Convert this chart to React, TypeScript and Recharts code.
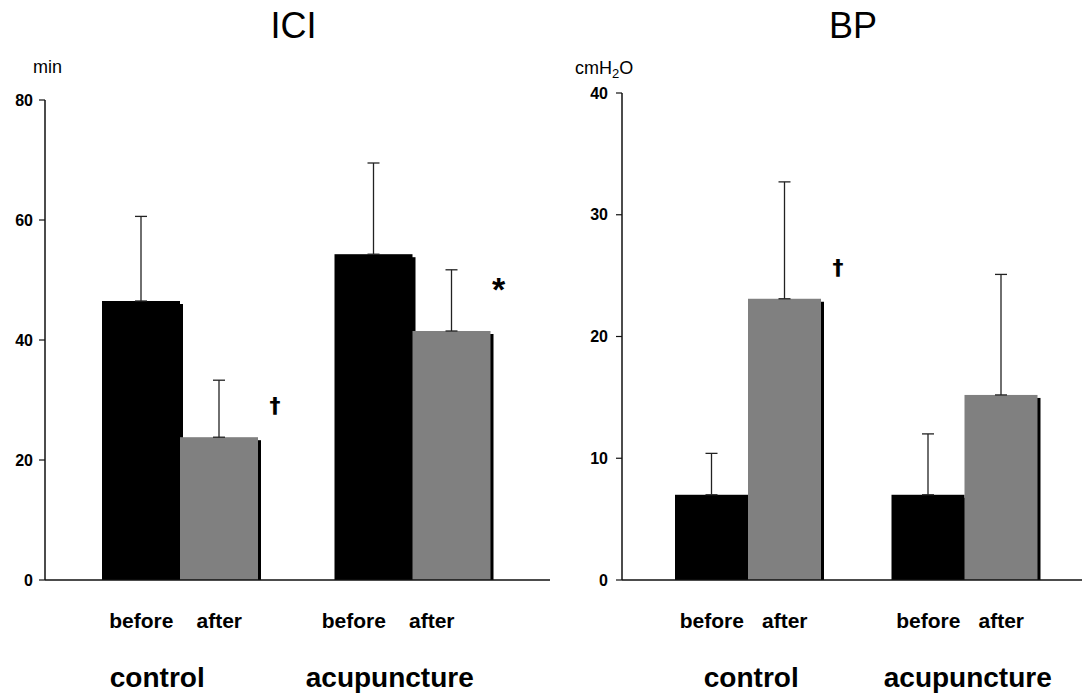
import React from "react";
import { BarChart, Bar, XAxis, YAxis, ErrorBar, LabelList } from "recharts";

const groups = ["control", "acupuncture"];
const phaseLabels = ["before", "after"];

const iciBefore = [46.5, 54.3];
const iciBeforeSD = [14.1, 15.2];
const iciAfter = [23.8, 41.5];
const iciAfterSD = [9.5, 10.2];
const iciMarks = ["†", "*"];
const iciTicks = [0, 20, 40, 60, 80];

const bpBefore = [7.0, 7.0];
const bpBeforeSD = [3.4, 5.0];
const bpAfter = [23.1, 15.2];
const bpAfterSD = [9.6, 9.9];
const bpMarks = ["†", ""];
const bpTicks = [0, 10, 20, 30, 40];

const FONT = "'Liberation Sans', Arial, Helvetica, sans-serif";

function buildRows(before: number[], beforeSD: number[], after: number[], afterSD: number[], marks: string[]) {
  return groups.map((g, i) => ({
    group: g,
    before: before[i],
    after: after[i],
    beforeErr: [0, beforeSD[i]],
    afterErr: [0, afterSD[i]],
    mark: marks[i],
  }));
}

const ShadowBar = (props: any) => {
  const { x, y, width, height, fill } = props;
  if (!height || height <= 0) return null;
  return (
    <g>
      <rect x={x + 3} y={y + 3} width={width} height={Math.max(0, height - 3)} fill="#000" />
      <rect x={x} y={y} width={width} height={height} fill={fill} />
    </g>
  );
};

const MarkLabel = (props: any) => {
  const { x, y, width, value } = props;
  if (!value) return null;
  const isStar = value === "*";
  return (
    <text
      x={x + width + (isStar ? 8 : 17)}
      y={y + (isStar ? -30.5 : -24)}
      textAnchor="middle"
      fontFamily={isStar ? FONT : "'DejaVu Sans', sans-serif"}
      fontWeight="bold"
      fontSize={isStar ? 34 : 22}
      fill="#000"
    >
      {value}
    </text>
  );
};

type PanelProps = {
  rows: any[];
  left: number;
  width: number;
  top: number;
  yAxisWidth: number;
  marginRight: number;
  padLeft: number;
  padRight: number;
  barSize: number;
  domain: [number, number];
  ticks: number[];
  labelShifts: number[];
  groupShift: number;
  tickMargin: number;
};

const Panel = (p: PanelProps) => {
  const XTick = (tp: any) => {
    const { x, y, payload, index } = tp;
    const s = p.labelShifts[index] || 0;
    return (
      <g fontFamily={FONT} fontWeight="bold" fill="#000">
        <text x={x - p.barSize / 2 + s} y={y + 48} textAnchor="middle" fontSize={21}>
          {phaseLabels[0]}
        </text>
        <text x={x + p.barSize / 2 + s} y={y + 48} textAnchor="middle" fontSize={21}>
          {phaseLabels[1]}
        </text>
        <text x={x + p.groupShift} y={y + 107} textAnchor="middle" fontSize={28}>
          {payload.value}
        </text>
      </g>
    );
  };
  return (
    <div style={{ position: "absolute", left: p.left, top: 0 }}>
      <BarChart
        width={p.width}
        height={695}
        data={p.rows}
        margin={{ top: p.top, right: p.marginRight, bottom: 0, left: 0 }}
        barGap={0}
        barSize={p.barSize}
      >
        <XAxis
          dataKey="group"
          tickLine={false}
          tickSize={0}
          tickMargin={0}
          axisLine={{ stroke: "#111", strokeWidth: 1.5 }}
          padding={{ left: p.padLeft, right: p.padRight }}
          tick={XTick}
          interval={0}
          height={115}
        />
        <YAxis
          width={p.yAxisWidth}
          domain={p.domain}
          ticks={p.ticks}
          interval={0}
          tickSize={6}
          tickMargin={p.tickMargin}
          axisLine={{ stroke: "#111", strokeWidth: 1.5 }}
          tickLine={{ stroke: "#111", strokeWidth: 1.2 }}
          tick={{ fill: "#000", fontSize: 16, fontWeight: "bold", fontFamily: FONT }}
        />
        <Bar dataKey="before" fill="#000000" shape={ShadowBar} isAnimationActive={false}>
          <ErrorBar dataKey="beforeErr" direction="y" width={6} stroke="#222" strokeWidth={1.3} />
        </Bar>
        <Bar dataKey="after" fill="#808080" shape={ShadowBar} isAnimationActive={false}>
          <ErrorBar dataKey="afterErr" direction="y" width={6} stroke="#222" strokeWidth={1.3} />
          <LabelList dataKey="mark" content={MarkLabel} />
        </Bar>
      </BarChart>
    </div>
  );
};

export default function App() {
  const iciRows = buildRows(iciBefore, iciBeforeSD, iciAfter, iciAfterSD, iciMarks);
  const bpRows = buildRows(bpBefore, bpBeforeSD, bpAfter, bpAfterSD, bpMarks);
  return (
    <div style={{ position: "absolute", left: 0, top: 0, width: 1082, height: 695, background: "#fff", overflow: "hidden" }}>
      <Panel
        rows={iciRows}
        left={0}
        width={560}
        top={100}
        yAxisWidth={45}
        marginRight={10}
        padLeft={19}
        padRight={21}
        barSize={78}
        domain={[0, 80]}
        ticks={iciTicks}
        labelShifts={[0, -20]}
        groupShift={-23}
        tickMargin={6}
      />
      <Panel
        rows={bpRows}
        left={560}
        width={522}
        top={93}
        yAxisWidth={62}
        marginRight={0}
        padLeft={18}
        padRight={9}
        barSize={73}
        domain={[0, 40]}
        ticks={bpTicks}
        labelShifts={[0, 0]}
        groupShift={3}
        tickMargin={8}
      />
      <svg
        width={1082}
        height={695}
        style={{ position: "absolute", left: 0, top: 0, pointerEvents: "none" }}
        fontFamily={FONT}
      >
        <text x={293.5} y={38} textAnchor="middle" fontSize={36} fill="#000">ICI</text>
        <text x={853} y={38} textAnchor="middle" fontSize={36} fill="#000">BP</text>
        <text x={33} y={73} fontSize={18} fill="#000">min</text>
        <text x={575} y={74} fontSize={18} fill="#000">
          cmH
          <tspan fontSize={13} dy={4}>2</tspan>
          <tspan dy={-4}>O</tspan>
        </text>
      </svg>
    </div>
  );
}
